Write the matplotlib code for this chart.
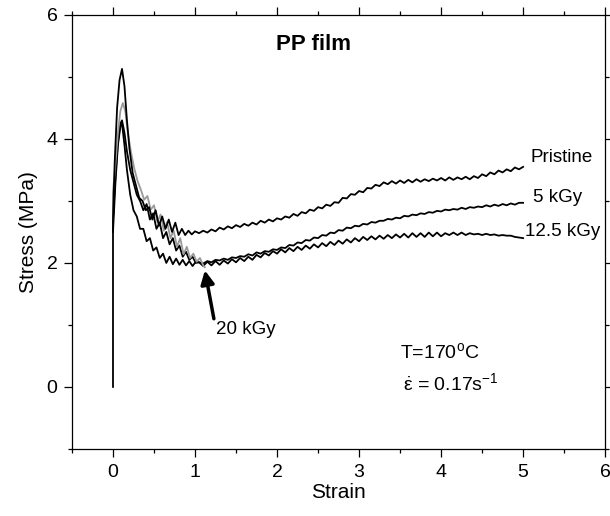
import matplotlib
matplotlib.use("Agg")
import matplotlib.pyplot as plt
from matplotlib.ticker import MultipleLocator

plt.rcParams['font.family'] = ['Liberation Sans', 'DejaVu Sans']
plt.rcParams['mathtext.default'] = 'regular'

# ---- data ----
tail_strain = [1.05, 1.10, 1.15, 1.20, 1.25, 1.30, 1.35, 1.40, 1.45, 1.50,
               1.55, 1.60, 1.65, 1.70, 1.75, 1.80, 1.85, 1.90, 1.95, 2.00,
               2.05, 2.10, 2.15, 2.20, 2.25, 2.30, 2.35, 2.40, 2.45, 2.50,
               2.55, 2.60, 2.65, 2.70, 2.75, 2.80, 2.85, 2.90, 2.95, 3.00,
               3.05, 3.10, 3.15, 3.20, 3.25, 3.30, 3.35, 3.40, 3.45, 3.50,
               3.55, 3.60, 3.65, 3.70, 3.75, 3.80, 3.85, 3.90, 3.95, 4.00,
               4.05, 4.10, 4.15, 4.20, 4.25, 4.30, 4.35, 4.40, 4.45, 4.50,
               4.55, 4.60, 4.65, 4.70, 4.75, 4.80, 4.85, 4.90, 4.95, 5.00]

pristine_head_strain = [0.0, 0.0, 0.02, 0.05, 0.08, 0.11, 0.14, 0.17, 0.20, 0.24,
                        0.28, 0.32, 0.36, 0.40, 0.44, 0.48, 0.52, 0.56, 0.60, 0.64,
                        0.68, 0.72, 0.76, 0.80, 0.84, 0.88, 0.92, 0.96, 1.00]
pristine_head_stress = [0.0, 2.7, 3.6, 4.5, 4.95, 5.13, 4.85, 4.3, 3.85, 3.45,
                        3.25, 3.05, 3.0, 2.85, 2.9, 2.7, 2.85, 2.6, 2.75, 2.55,
                        2.7, 2.5, 2.65, 2.45, 2.55, 2.45, 2.52, 2.46, 2.51]
pristine_tail_stress = [2.48, 2.52, 2.49, 2.54, 2.51, 2.57, 2.54, 2.59, 2.56, 2.61,
                        2.58, 2.63, 2.60, 2.65, 2.62, 2.68, 2.65, 2.70, 2.67, 2.72,
                        2.70, 2.75, 2.73, 2.79, 2.76, 2.82, 2.80, 2.86, 2.84, 2.90,
                        2.88, 2.94, 2.92, 2.98, 2.97, 3.05, 3.04, 3.11, 3.10, 3.16,
                        3.14, 3.21, 3.20, 3.26, 3.24, 3.30, 3.27, 3.32, 3.28, 3.33,
                        3.29, 3.34, 3.30, 3.35, 3.31, 3.35, 3.32, 3.36, 3.33, 3.37,
                        3.33, 3.38, 3.34, 3.38, 3.35, 3.39, 3.35, 3.40, 3.37, 3.43,
                        3.40, 3.46, 3.43, 3.49, 3.46, 3.51, 3.48, 3.54, 3.51, 3.55]

kgy5_head_strain = [0.0, 0.03, 0.06, 0.09, 0.11, 0.14, 0.17, 0.21, 0.25, 0.29,
                    0.33, 0.37, 0.41, 0.45, 0.49, 0.53, 0.57, 0.61, 0.65, 0.69,
                    0.73, 0.77, 0.81, 0.85, 0.89, 0.93, 0.97, 1.01]
kgy5_head_stress = [2.7, 3.4, 3.95, 4.25, 4.3, 4.1, 3.8, 3.5, 3.3, 3.1,
                    3.0, 2.85, 2.95, 2.7, 2.8, 2.55, 2.65, 2.4, 2.5, 2.3,
                    2.4, 2.2, 2.28, 2.1, 2.18, 2.05, 2.1, 2.0]
kgy5_tail_stress = [2.01, 1.99, 2.03, 2.01, 2.05, 2.04, 2.07, 2.05, 2.09, 2.08,
                    2.11, 2.10, 2.14, 2.12, 2.17, 2.15, 2.19, 2.18, 2.22, 2.21,
                    2.25, 2.24, 2.29, 2.28, 2.33, 2.32, 2.37, 2.36, 2.41, 2.40,
                    2.45, 2.44, 2.49, 2.48, 2.53, 2.52, 2.57, 2.56, 2.60, 2.59,
                    2.63, 2.62, 2.66, 2.65, 2.68, 2.68, 2.71, 2.70, 2.73, 2.72,
                    2.76, 2.75, 2.78, 2.77, 2.80, 2.79, 2.82, 2.81, 2.84, 2.83,
                    2.86, 2.85, 2.87, 2.86, 2.89, 2.87, 2.90, 2.89, 2.91, 2.90,
                    2.93, 2.91, 2.94, 2.92, 2.95, 2.93, 2.96, 2.94, 2.97, 2.97]

kgy125_head_strain = [0.0, 0.03, 0.06, 0.09, 0.11, 0.14, 0.17, 0.21, 0.25, 0.29,
                      0.33, 0.37, 0.41, 0.45, 0.49, 0.53, 0.57, 0.61, 0.65, 0.69,
                      0.73, 0.77, 0.81, 0.85, 0.89, 0.93, 0.97, 1.01]
kgy125_head_stress = [2.5, 3.3, 3.9, 4.2, 4.25, 3.9, 3.5, 3.1, 2.85, 2.75,
                      2.55, 2.55, 2.35, 2.4, 2.2, 2.25, 2.08, 2.15, 2.0, 2.1,
                      1.98, 2.07, 1.97, 2.05, 1.96, 2.03, 1.95, 2.02]
kgy125_tail_stress = [2.01, 1.95, 2.02, 1.96, 2.03, 1.97, 2.04, 1.99, 2.06, 2.01,
                      2.08, 2.03, 2.10, 2.05, 2.13, 2.09, 2.16, 2.12, 2.19, 2.15,
                      2.22, 2.17, 2.24, 2.19, 2.26, 2.21, 2.28, 2.23, 2.30, 2.25,
                      2.32, 2.27, 2.34, 2.29, 2.36, 2.31, 2.38, 2.33, 2.40, 2.35,
                      2.42, 2.37, 2.43, 2.38, 2.44, 2.39, 2.45, 2.40, 2.46, 2.41,
                      2.47, 2.41, 2.48, 2.42, 2.48, 2.42, 2.49, 2.43, 2.49, 2.43,
                      2.48, 2.45, 2.49, 2.45, 2.49, 2.45, 2.48, 2.46, 2.47, 2.45,
                      2.47, 2.45, 2.46, 2.44, 2.45, 2.44, 2.44, 2.42, 2.41, 2.40]

kgy20_strain = [0.0, 0.0, 0.03, 0.06, 0.09, 0.12, 0.15, 0.18, 0.22, 0.26,
                0.30, 0.34, 0.38, 0.42, 0.46, 0.50, 0.54, 0.58, 0.62, 0.66,
                0.70, 0.74, 0.78, 0.82, 0.86, 0.90, 0.94, 0.98, 1.02, 1.06,
                1.10, 1.12]
kgy20_stress = [2.7, 3.15, 3.6, 4.1, 4.45, 4.58, 4.45, 4.12, 3.78, 3.52,
                3.32, 3.18, 3.02, 3.08, 2.86, 2.93, 2.66, 2.78, 2.52, 2.66,
                2.4, 2.52, 2.26, 2.4, 2.14, 2.26, 2.08, 2.15, 2.02, 2.08,
                1.96, 1.93]

curve_labels = ["Pristine", "5 kGy", "12.5 kGy", "20 kGy"]

# ---- figure ----
fig = plt.figure(figsize=(6.10, 5.16), dpi=100)
ax = fig.add_axes([0.118, 0.130, 0.874, 0.841])

lw = 1.3
ax.plot(kgy125_head_strain + tail_strain, kgy125_head_stress + kgy125_tail_stress,
        color='black', lw=lw, zorder=3)
ax.plot(kgy5_head_strain + tail_strain, kgy5_head_stress + kgy5_tail_stress,
        color='black', lw=lw, zorder=3)
ax.plot(kgy20_strain, kgy20_stress, color='#9a9a9a', lw=lw, zorder=4)
ax.plot(pristine_head_strain + tail_strain, pristine_head_stress + pristine_tail_stress,
        color='black', lw=lw, zorder=5)

ax.set_xlim(-0.5, 6)
ax.set_ylim(-1, 6)
ax.xaxis.set_minor_locator(MultipleLocator(0.5))
ax.yaxis.set_minor_locator(MultipleLocator(1))
ax.set_xticks([0, 1, 2, 3, 4, 5, 6])
ax.set_yticks([0, 2, 4, 6])
ax.tick_params(which='major', direction='out', length=5.5, width=0.9,
               labelsize=14, pad=5, top=True, right=True)
ax.tick_params(which='minor', direction='out', length=2.8, width=0.9,
               top=True, right=True)
for s in ax.spines.values():
    s.set_linewidth(0.9)

ax.set_xlabel("Strain", fontsize=15, labelpad=2)
ax.set_ylabel("Stress (MPa)", fontsize=15, labelpad=6)

ax.text(2.45, 5.52, "PP film", fontsize=16, fontweight='bold', ha='center', va='center')
ax.text(5.09, 3.7, curve_labels[0], fontsize=13.5, ha='left', va='center')
ax.text(5.12, 3.05, curve_labels[1], fontsize=13.5, ha='left', va='center')
ax.text(5.02, 2.5, curve_labels[2], fontsize=13.5, ha='left', va='center')
ax.text(1.62, 0.93, curve_labels[3], fontsize=13.5, ha='center', va='center')
ax.annotate("", xy=(1.12, 1.88), xytext=(1.23, 1.1),
            arrowprops=dict(arrowstyle='-|>', color='black', lw=2.5,
                            mutation_scale=20, shrinkA=0, shrinkB=0))

ax.text(3.5, 0.56, "T=170$^{o}$C", fontsize=14, ha='left', va='center')
ax.text(3.54, 0.06, r"$\dot{\varepsilon}$ = 0.17s$^{-1}$", fontsize=14, ha='left', va='center')

fig.savefig("out.png", dpi=100)
